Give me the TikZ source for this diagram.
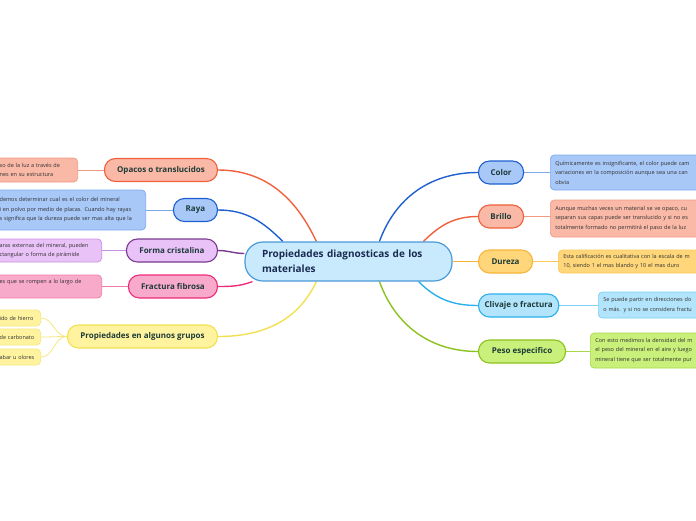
\documentclass[tikz,border=0pt]{standalone}
\usepackage{fontspec}
\setmainfont{Open Sans}
\usetikzlibrary{backgrounds}
\definecolor{cfill}{HTML}{C8EAFC}\definecolor{cdraw}{HTML}{4A9AD8}\definecolor{ctext}{HTML}{1A2A50}
\definecolor{blfill}{HTML}{A8C8F8}\definecolor{bldraw}{HTML}{1F5FD1}\definecolor{bldet}{HTML}{7CA9EC}
\definecolor{orfill}{HTML}{F9B9A6}\definecolor{ordraw}{HTML}{F0603C}\definecolor{ordet}{HTML}{F29A84}
\definecolor{yefill}{HTML}{FFD77A}\definecolor{yedraw}{HTML}{F8B43A}\definecolor{yedet}{HTML}{FCC85A}
\definecolor{cyfill}{HTML}{B2E4FB}\definecolor{cydraw}{HTML}{2AB0EC}\definecolor{cydet}{HTML}{7CCFF5}
\definecolor{grfill}{HTML}{C9F07A}\definecolor{grdraw}{HTML}{8CC21E}\definecolor{grdet}{HTML}{A8D84A}
\definecolor{pufill}{HTML}{E9C2F8}\definecolor{pudraw}{HTML}{7A3A90}\definecolor{pudet}{HTML}{C890E0}
\definecolor{pifill}{HTML}{F8AACB}\definecolor{pidraw}{HTML}{EE2C7C}\definecolor{pidet}{HTML}{F07AA8}
\definecolor{lyfill}{HTML}{FFF3A0}\definecolor{lydraw}{HTML}{F2E050}\definecolor{lydet}{HTML}{F4E680}
\definecolor{btext}{HTML}{1D3B38}\definecolor{dtext}{HTML}{303030}
\begin{document}
\begin{tikzpicture}[x=1pt,y=-1pt,
  central/.style={draw=cdraw,fill=cfill,line width=1.2pt,rounded corners=18pt,minimum width=207pt,minimum height=39pt,inner xsep=17pt,text width=173pt,align=left,font=\fontsize{10}{15}\selectfont\bfseries,text=ctext},
  branch/.style={line width=1.1pt,rounded corners=11pt,minimum height=23pt,inner xsep=6pt,font=\fontsize{8}{10}\selectfont\bfseries,text=btext},
  detail/.style={line width=0.7pt,rounded corners=4pt,inner xsep=5pt,inner ysep=3pt,align=left,font=\fontsize{5.5}{9.5}\selectfont,text=dtext},
  conn/.style={line width=1.4pt},
  dconn/.style={line width=0.8pt}]
\clip (0,0) rectangle (696,520);
% central
\node[central] (c) at (348.5,261.5) {Propiedades diagnosticas de los\\materiales};
% right branches
\node[branch,fill=blfill,draw=bldraw,anchor=west,minimum width=45pt] (color) at (478,172.5) {Color};
\node[branch,fill=orfill,draw=ordraw,anchor=west,minimum width=45pt] (brillo) at (478,216.5) {Brillo};
\node[branch,fill=yefill,draw=yedraw,anchor=west,minimum width=54pt] (dureza) at (478,261.5) {Dureza};
\node[branch,fill=cyfill,draw=cydraw,anchor=west,minimum width=80pt] (clivaje) at (478,305.5) {Clivaje o fractura};
\node[branch,fill=grfill,draw=grdraw,anchor=west,minimum width=87pt] (peso) at (478,351.5) {Peso especifico};
% left branches
\node[branch,fill=orfill,draw=ordraw,anchor=east,minimum width=113pt] (opacos) at (218,170) {Opacos o translucidos};
\node[branch,fill=blfill,draw=bldraw,anchor=east,minimum width=44pt] (raya) at (218,210) {Raya};
\node[branch,fill=pufill,draw=pudraw,anchor=east,minimum width=91pt] (forma) at (218,250.5) {Forma cristalina};
\node[branch,fill=pifill,draw=pidraw,anchor=east,minimum width=89pt] (fractura) at (218,286.5) {Fractura fibrosa};
\node[branch,fill=lyfill,draw=lydraw,anchor=east,minimum width=150pt] (grupos) at (218,336.5) {Propiedades en algunos grupos};
% right details
\node[detail,fill=blfill,draw=bldet,anchor=west,text width=200pt,minimum height=35pt] (colord) at (550,172.5) {Químicamente es insignificante, el color puede cam\\variaciones en la composición aunque sea una can\\obvia};
\node[detail,fill=orfill,draw=ordet,anchor=west,text width=200pt,minimum height=37pt] (brillod) at (550,218.5) {Aunque muchas veces un material se ve opaco, cu\\separan sus capas puede ser translucido y si no es\\totalmente formado no permitirá el paso de la luz};
\node[detail,fill=yefill,draw=yedet,anchor=west,text width=200pt,minimum height=23pt] (durezad) at (558,261.5) {Esta calificación es cualitativa con la escala de m\\10, siendo 1 el mas blando y 10 el mas duro};
\node[detail,fill=cyfill,draw=cydet,anchor=west,text width=200pt,minimum height=26pt] (clivajed) at (598,305) {Se puede partir en direcciones do\\o más. y si no se considera fractu};
\node[detail,fill=grfill,draw=grdet,anchor=west,text width=200pt,minimum height=35pt] (pesod) at (590,350.5) {Con esto medimos la densidad del m\\el peso del mineral en el aire y luego\\mineral tiene que ser totalmente pur};
% left details
\node[detail,fill=orfill,draw=ordet,anchor=east,text width=73pt,minimum height=24pt] (opacosd) at (78,170) {so de la luz a través de\\nes en su estructura};
\node[detail,fill=blfill,draw=bldet,anchor=east,text width=141pt,minimum height=40pt] (rayad) at (146,210) {demos determinar cual es el color del mineral\\i en polvo por medio de placas. Cuando hay rayas\\s significa que la dureza puede ser mas alta que la};
\node[detail,fill=pufill,draw=pudet,anchor=east,text width=97pt,minimum height=23pt] (formad) at (102,250.5) {aras externas del mineral, pueden\\ctangular o forma de pirámide};
\node[detail,fill=pifill,draw=pidet,anchor=east,text width=97pt,minimum height=23pt] (fracturad) at (102,286.5) {es que se rompen a lo largo de\\~};
\node[detail,fill=lyfill,draw=lydet,anchor=east,text width=36pt,minimum height=16pt,inner ysep=2pt] (g1) at (41,318) {ido de hierro};
\node[detail,fill=lyfill,draw=lydet,anchor=east,text width=36pt,minimum height=16pt,inner ysep=2pt] (g2) at (41,337) {de carbonato};
\node[detail,fill=lyfill,draw=lydet,anchor=east,text width=36pt,minimum height=16pt,inner ysep=2pt] (g3) at (41,357) {abar u olores};
\begin{pgfonlayer}{background}
\draw[conn,draw=bldraw] (c.33.5) to[out=70,in=180] (color.west);
\draw[conn,draw=ordraw] (c.15.3) to[out=45,in=180] (brillo.west);
\draw[conn,draw=yedraw] (c.east) to[out=0,in=180] (dureza.west);
\draw[conn,draw=cydraw] (c.-16) to[out=-45,in=180] (clivaje.west);
\draw[conn,draw=grdraw] (c.-33.5) to[out=-70,in=180] (peso.west);
\draw[conn,draw=ordraw] (c.148.2) to[out=115,in=0] (opacos.east);
\draw[conn,draw=bldraw] (c.163.4) to[out=135,in=0] (raya.east);
\draw[conn,draw=pudraw] (c.west) ++(0,-8) to[out=180,in=0] (forma.east);
\draw[conn,draw=pidraw] (c.south west) ++(8,0) to[out=200,in=0] (fractura.east);
\draw[conn,draw=lydraw] (c.-148) to[out=-115,in=0] (grupos.east);
\draw[dconn,draw=bldet] (color.east) -- (colord.west);
\draw[dconn,draw=ordet] (brillo.east) -- (brillod.west |- brillo.east);
\draw[dconn,draw=yedet] (dureza.east) -- (durezad.west);
\draw[dconn,draw=cydet] (clivaje.east) -- (clivajed.west |- clivaje.east);
\draw[dconn,draw=grdet] (peso.east) -- (pesod.west |- peso.east);
\draw[dconn,draw=ordet] (opacos.west) -- (opacosd.east);
\draw[dconn,draw=bldet] (raya.west) -- (rayad.east);
\draw[dconn,draw=pudet] (forma.west) -- (formad.east);
\draw[dconn,draw=pidet] (fractura.west) -- (fracturad.east);
\draw[dconn,draw=lydet] (grupos.west) to[out=180,in=0] (g1.east);
\draw[dconn,draw=lydet] (grupos.west) to[out=180,in=0] (g2.east);
\draw[dconn,draw=lydet] (grupos.west) to[out=180,in=0] (g3.east);
\end{pgfonlayer}
\end{tikzpicture}
\end{document}
